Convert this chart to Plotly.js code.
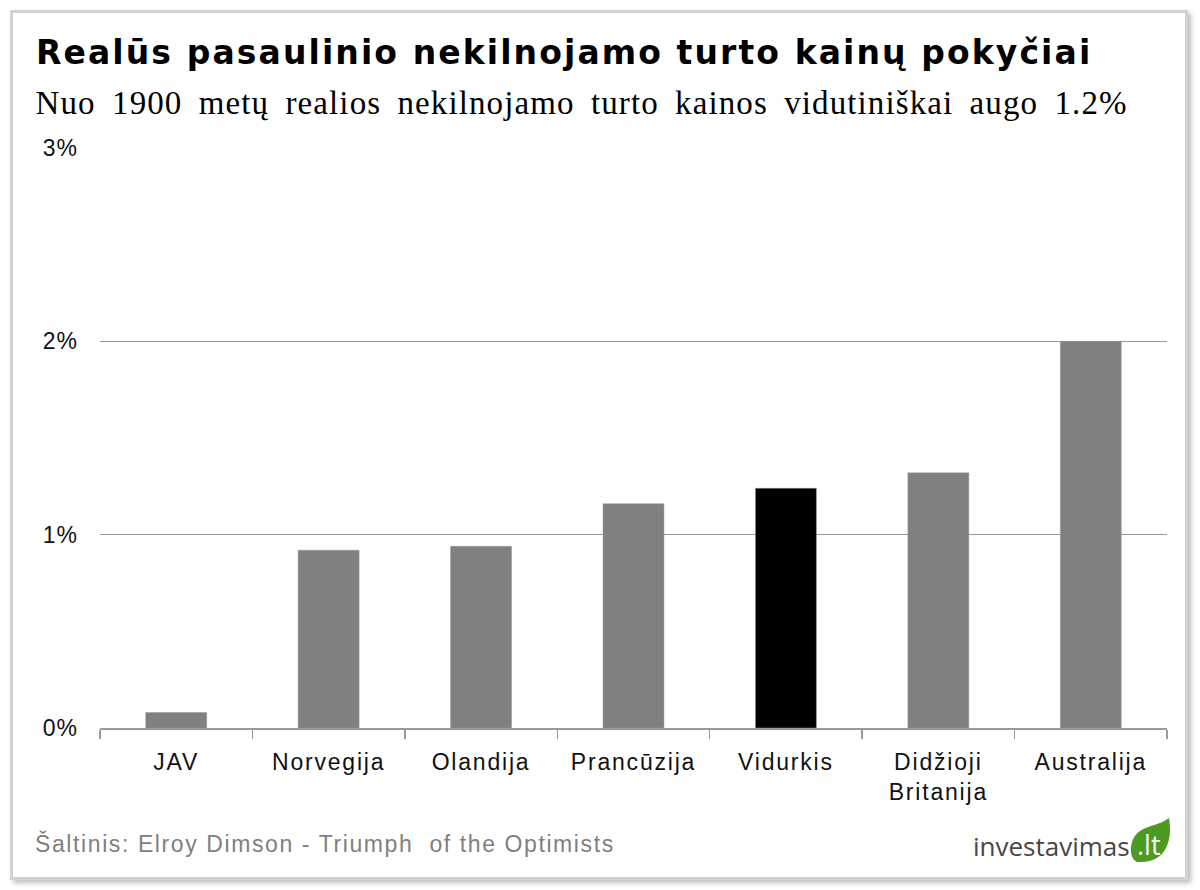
<!DOCTYPE html>
<html>
<head>
<meta charset="utf-8">
<script src="https://cdn.plot.ly/plotly-3.0.1.min.js"></script>
<style>
  html, body { margin: 0; padding: 0; background: #ffffff; }
  #wrap { position: relative; width: 1200px; height: 890px; overflow: hidden; }
  #frame { position: absolute; left: 10px; top: 10px; width: 1172px; height: 864px;
           border: 3px solid #d2d2d2; box-shadow: 3px 3px 5px #bdbdbd; background: #fff; }
  #chart { position: absolute; left: 0; top: 0; width: 1200px; height: 890px; }
  #chart .gtitle { letter-spacing: 2.1px; }
  #chart .annotation[data-index="0"] text { letter-spacing: 1.1px; word-spacing: 7px; }
  #chart .annotation[data-index="1"] text { letter-spacing: 1.6px; }
  #chart .xtick text { letter-spacing: 1.8px; }
  #chart .ytick text { letter-spacing: 1px; }
</style>
</head>
<body>
<div id="wrap">
  <div id="frame"></div>
  <div id="chart"></div>
</div>
<script>
// ---- data ----
const categories = ["JAV", "Norvegija", "Olandija", "Prancūzija", "Vidurkis", "Didžioji<br>Britanija", "Australija"];
const values = [0.08, 0.92, 0.94, 1.16, 1.24, 1.32, 2.00];
const barColors = ["#808080", "#808080", "#808080", "#808080", "#000000", "#808080", "#808080"];
const yTickVals = [0, 1, 2, 3];
const yTickText = ["0%", "1%", "2%", "3%"];

const titleText = "Realūs pasaulinio nekilnojamo turto kainų pokyčiai";
const subtitleText = "Nuo 1900 metų realios nekilnojamo turto kainos vidutiniškai augo 1.2%";
const sourceText = "Šaltinis: Elroy Dimson - Triumph&nbsp; of the Optimists";

// ---- layout helpers (pixel -> paper) ----
const W = 1200, H = 890;
const M = { l: 100, r: 33, t: 148, b: 162 };
const PW = W - M.l - M.r, PH = H - M.t - M.b;
const px = x => (x - M.l) / PW;
const py = y => (H - M.b - y) / PH;

const trace = {
  type: "bar",
  x: categories,
  y: values,
  marker: { color: barColors, line: { color: "#9a9a9a", width: 0.5 } },
  hoverinfo: "x+y"
};

const leafPath = (() => {
  const pts = [
    ["M", 1137, 862],
    ["C", 1128, 858, 1129, 838, 1140, 831],
    ["C", 1149, 825, 1160, 825, 1169, 818],
    ["C", 1173, 840, 1166, 862, 1141, 862]
  ];
  return pts.map(p => {
    let s = p[0];
    for (let i = 1; i < p.length; i += 2) s += " " + px(p[i]).toFixed(5) + "," + py(p[i + 1]).toFixed(5);
    return s;
  }).join(" ") + " Z";
})();

const layout = {
  width: W, height: H,
  margin: M,
  paper_bgcolor: "rgba(0,0,0,0)",
  plot_bgcolor: "rgba(0,0,0,0)",
  showlegend: false,
  bargap: 0.6,
  font: { family: "Liberation Sans, Arial, sans-serif", color: "#000" },
  title: {
    text: "<b>" + titleText + "</b>",
    xref: "container", yref: "container",
    x: 36 / W, xanchor: "left",
    y: 1 - 52 / H, yanchor: "middle",
    font: { family: "DejaVu Sans, sans-serif", size: 33, color: "#000" }
  },
  xaxis: {
    type: "category",
    showgrid: false,
    showline: true, linecolor: "#9a9a9a", linewidth: 1.5,
    ticks: "outside", tickson: "boundaries", ticklen: 9, tickcolor: "#9a9a9a", tickwidth: 1.5,
    tickfont: { size: 23, color: "#111" },
    ticklabelstandoff: 13,
    fixedrange: true
  },
  yaxis: {
    range: [0, 3],
    tickvals: yTickVals, ticktext: yTickText,
    showgrid: true, gridcolor: "#989898", gridwidth: 1.6,
    zeroline: false,
    showline: false, ticks: "",
    tickfont: { size: 23, color: "#111" },
    ticklabelstandoff: 21,
    fixedrange: true
  },
  annotations: [
    {
      text: subtitleText, xref: "paper", yref: "paper",
      x: px(581), y: py(103), xanchor: "center", yanchor: "middle", showarrow: false,
      font: { family: "Liberation Serif, Times New Roman, serif", size: 33, color: "#000" }
    },
    {
      text: sourceText, xref: "paper", yref: "paper",
      x: px(325), y: py(843), xanchor: "center", yanchor: "middle", showarrow: false,
      font: { family: "Liberation Sans, Arial, sans-serif", size: 23, color: "#808080" }
    },
    {
      text: "investavimas", xref: "paper", yref: "paper",
      x: px(1132), y: py(846), xanchor: "right", yanchor: "middle", showarrow: false,
      font: { family: "Open Sans, sans-serif", size: 26, color: "#474747" }
    },
    {
      text: ".lt", xref: "paper", yref: "paper",
      x: px(1149), y: py(844), xanchor: "center", yanchor: "middle", showarrow: false,
      font: { family: "Open Sans, sans-serif", size: 27, color: "#ffffff" }
    }
  ],
  shapes: [
    {
      type: "path", xref: "paper", yref: "paper", path: leafPath,
      fillcolor: "#4d9a23", line: { width: 0 }, layer: "below"
    }
  ]
};

Plotly.newPlot("chart", [trace], layout, { displayModeBar: false, staticPlot: true });
</script>
</body>
</html>
